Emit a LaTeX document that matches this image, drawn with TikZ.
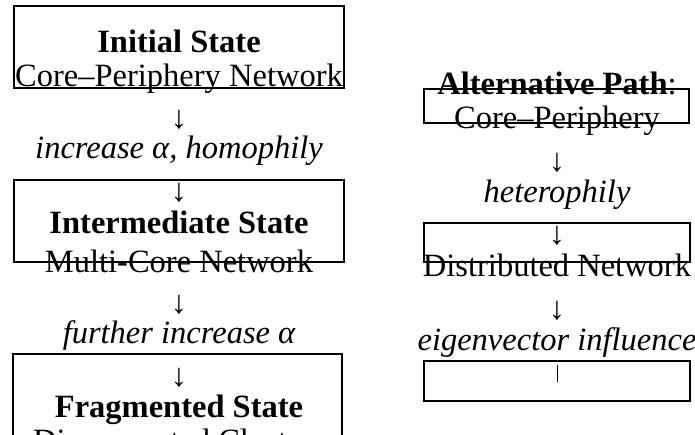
\documentclass[tikz,border=0pt]{standalone}
\usepackage{fontspec}
\setmainfont{Liberation Serif}
\newcommand\myfs{\fontsize{32.5}{34}\selectfont}
\begin{document}
\begin{tikzpicture}[x=1pt,y=-1pt,
  txt/.style={anchor=base, inner sep=0pt, outer sep=0pt, font=\myfs},
  bld/.style={txt, font=\myfs\bfseries},
  itl/.style={txt, font=\myfs\itshape},
  box/.style={draw, line width=1.3pt, inner sep=0pt, outer sep=0pt}]
\clip (0,0) rectangle (695,434);
\useasboundingbox (0,0) rectangle (695,434);
% left column boxes
\node[box, minimum width=330pt, minimum height=82pt] (lb1) at (179,47) {};
\node[box, minimum width=330pt, minimum height=82pt] (lb2) at (179,221) {};
\node[box, minimum width=329pt, minimum height=100pt] (lb3) at (177.5,404) {};
% right column boxes
\node[box, minimum width=265pt, minimum height=34pt] (rb1) at (556.5,106) {};
\node[box, minimum width=266pt, minimum height=39pt] (rb2) at (557,242.5) {};
\node[box, minimum width=266pt, minimum height=40pt] (rb3) at (557,381) {};
% left column text
\node[bld] (l1) at (179,52) {Initial State};
\node[txt] (l2) at (179,86) {Core–Periphery Network};
\node[txt] (l3) at (179,128) {↓};
\node[itl] (l4) at (179,158) {increase α, homophily};
\node[txt] (l5) at (179,201) {↓};
\node[bld] (l6) at (179,233) {Intermediate State};
\node[txt] (l7) at (179,272) {Multi-Core Network};
\node[txt] (l8) at (179,313) {↓};
\node[itl] (l9) at (179,343) {further increase α};
\node[txt] (l10) at (179,386) {↓};
\node[bld] (l11) at (179,417) {Fragmented State};
\node[txt] (l12) at (179,451) {Disconnected Clusters};
% right column text
\node[txt] (r1) at (557,94) {\textbf{Alternative Path}:};
\node[txt] (r2) at (557,128) {Core–Periphery};
\node[txt] (r3) at (557,171) {↓};
\node[itl] (r4) at (557,202) {heterophily};
\node[txt] (r5) at (557,244) {↓};
\node[txt] (r6) at (557,276) {Distributed Network};
\node[txt] (r7) at (557,319) {↓};
\node[itl] (r8) at (557,350) {eigenvector influence};
\coordinate (bt) at (557,365);
\coordinate (bb) at (557,382);
\draw[line width=1pt] (bt) -- (bb);
\end{tikzpicture}
\end{document}
